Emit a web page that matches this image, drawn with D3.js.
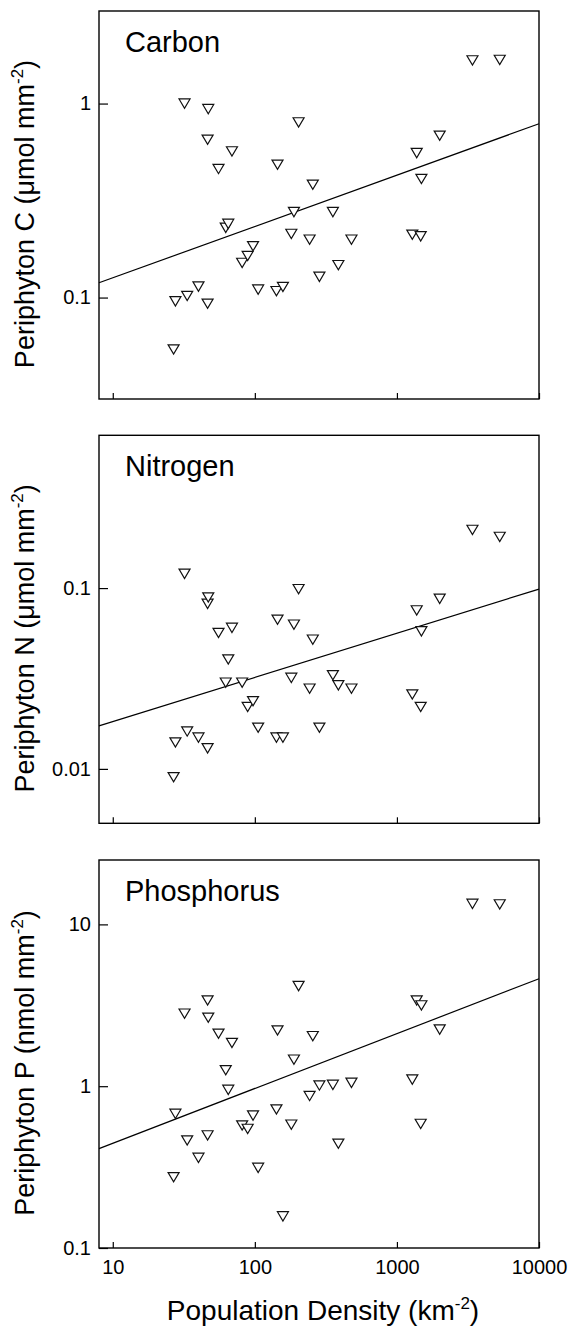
<!DOCTYPE html>
<html>
<head>
<meta charset="utf-8">
<script src="https://cdn.jsdelivr.net/npm/d3@7"></script>
<style>
    body { margin: 0; background: #fff; }
    svg { display: block; font-family: "Liberation Sans", Arial, Helvetica, sans-serif; }
</style>
</head>
<body>
<div id="chart"></div>
<script>
// one value per site, same order in every array
const popDensity = [26.8, 27.6, 32.0, 33.4, 40.1, 46.5, 46.5, 47.0, 55.5, 62.4, 65.0, 69.0, 81.4, 89.0, 97.1, 105.5, 141.9, 144.4, 157.6, 180.6, 188.4, 203.2, 242.9, 255.8, 284.7, 354.2, 387.1, 478.6, 1283, 1378, 1470, 1487, 2000, 3401, 5292];
const carbon = [0.054, 0.0957, 1.0, 0.102, 0.114, 0.651, 0.093, 0.937, 0.460, 0.229, 0.240, 0.567, 0.151, 0.164, 0.184, 0.110, 0.108, 0.484, 0.1135, 0.213, 0.276, 0.80, 0.199, 0.382, 0.128, 0.276, 0.147, 0.199, 0.211, 0.556, 0.207, 0.409, 0.683, 1.67, 1.68];
const nitrogen = [0.0090, 0.014, 0.120, 0.0161, 0.0149, 0.0819, 0.013, 0.0888, 0.0565, 0.030, 0.0403, 0.0603, 0.030, 0.022, 0.0237, 0.0169, 0.0149, 0.0669, 0.0149, 0.0319, 0.0628, 0.0987, 0.0278, 0.0519, 0.0169, 0.033, 0.029, 0.0278, 0.0258, 0.0753, 0.022, 0.0577, 0.0873, 0.21, 0.192];
const phosphorus = [0.274, 0.675, 2.81, 0.462, 0.361, 3.39, 0.497, 2.65, 2.11, 1.256, 0.95, 1.85, 0.572, 0.545, 0.659, 0.313, 0.718, 2.21, 0.157, 0.579, 1.46, 4.16, 0.87, 2.04, 1.01, 1.02, 0.441, 1.05, 1.10, 3.39, 0.585, 3.16, 2.24, 13.4, 13.3];

// log10(y) = a + b * log10(x)
const carbonFit = [-1.163, 0.2647];
const nitrogenFit = [-1.983, 0.2444];
const phosphorusFit = [-0.692, 0.339];

const xTicks = [10, 100, 1000, 10000];
const carbonTicks = [0.1, 1];
const nitrogenTicks = [0.01, 0.1];
const phosphorusTicks = [0.1, 1, 10];

const width = 572;
const height = 1328;
const margin = { left: 99, right: 33 };
const panelHeight = 388;

const panels = [
    { name: 'Carbon', values: carbon, fit: carbonFit, ticks: carbonTicks, domain: [0.03, 3], top: 11, label: ['Periphyton C (\u03bcmol mm', '-2', ')'] },
    { name: 'Nitrogen', values: nitrogen, fit: nitrogenFit, ticks: nitrogenTicks, domain: [0.005, 0.7], top: 435.3, label: ['Periphyton N (\u03bcmol mm', '-2', ')'] },
    { name: 'Phosphorus', values: phosphorus, fit: phosphorusFit, ticks: phosphorusTicks, domain: [0.1, 25], top: 860, label: ['Periphyton P (nmol mm', '-2', ')'] }
];

let svg = d3.select('#chart').append('svg')
    .attr('width', width)
    .attr('height', height);

svg.append('rect')
    .attr('width', width)
    .attr('height', height)
    .attr('fill', '#fff');

let x = d3.scaleLog()
    .domain([8, 10000])
    .range([margin.left, width - margin.right]);

// open down-pointing triangle, centred on its box
function triangle() {
    let p = d3.path();
    p.moveTo(-5.5, -4.6);
    p.lineTo(5.5, -4.6);
    p.lineTo(0, 4.7);
    p.closePath();
    return p.toString();
}

panels.forEach((panel, i) => {
    let y = d3.scaleLog()
        .domain(panel.domain)
        .range([panel.top + panelHeight, panel.top]);
    let g = svg.append('g').classed('panel', true);
    let last = i === panels.length - 1;

    // y axis, ticks pointing inside
    let yAxis = g.append('g')
        .attr('transform', `translate(${margin.left},0)`)
        .call(d3.axisLeft(y)
            .tickValues(panel.ticks)
            .tickFormat(d3.format('~g'))
            .tickSizeInner(-9)
            .tickSizeOuter(0)
            .tickPadding(8));
    yAxis.select('.domain').remove();
    yAxis.selectAll('text')
        .attr('font-size', 20)
        .attr('font-family', null)
        .attr('fill', '#000');
    yAxis.selectAll('line').attr('stroke', '#000').attr('stroke-width', 1.2);

    let xAxis = g.append('g')
        .attr('transform', `translate(0,${panel.top + panelHeight})`)
        .call(d3.axisBottom(x)
            .tickValues(xTicks)
            .tickFormat(last ? d3.format('d') : '')
            .tickSizeInner(-6)
            .tickSizeOuter(0)
            .tickPadding(12));
    xAxis.select('.domain').remove();
    xAxis.selectAll('text')
        .attr('font-size', 20)
        .attr('font-family', null)
        .attr('fill', '#000');
    xAxis.selectAll('line').attr('stroke', '#000').attr('stroke-width', 1.2);

    // frame
    g.append('rect')
        .attr('x', margin.left)
        .attr('y', panel.top)
        .attr('width', x.range()[1] - x.range()[0])
        .attr('height', panelHeight)
        .attr('fill', 'none')
        .attr('stroke', '#000')
        .attr('stroke-width', 1.4);

    // regression line
    let line = d3.line()
        .x(d => x(d))
        .y(d => y(Math.pow(10, panel.fit[0] + panel.fit[1] * Math.log10(d))));
    g.append('path')
        .datum(x.domain())
        .attr('d', line)
        .attr('fill', 'none')
        .attr('stroke', '#000')
        .attr('stroke-width', 1.2);

    g.selectAll('.point')
        .data(panel.values)
        .enter()
        .append('path')
        .classed('point', true)
        .attr('transform', (d, k) => `translate(${x(popDensity[k])},${y(d)})`)
        .attr('d', triangle())
        .attr('fill', '#fff')
        .attr('stroke', '#111')
        .attr('stroke-width', 1.2);

    g.append('text')
        .attr('x', 125)
        .attr('y', panel.top + 40.5)
        .attr('font-size', 29)
        .text(panel.name);

    let title = g.append('text')
        .attr('transform', `translate(33.5,${panel.top + panelHeight / 2 + 9}) rotate(-90)`)
        .attr('text-anchor', 'middle')
        .attr('font-size', 27);
    title.append('tspan').text(panel.label[0]);
    title.append('tspan')
        .attr('font-size', 17)
        .attr('dy', -11)
        .text(panel.label[1]);
    title.append('tspan')
        .attr('dy', 11)
        .text(panel.label[2]);
});

let xTitle = svg.append('text')
    .attr('x', (x.range()[0] + x.range()[1]) / 2 + 4)
    .attr('y', 1320)
    .attr('text-anchor', 'middle')
    .attr('font-size', 28);
xTitle.append('tspan').text('Population Density (km');
xTitle.append('tspan')
    .attr('font-size', 17)
    .attr('dy', -11)
    .text('-2');
xTitle.append('tspan')
    .attr('dy', 11)
    .text(')');
</script>
</body>
</html>
